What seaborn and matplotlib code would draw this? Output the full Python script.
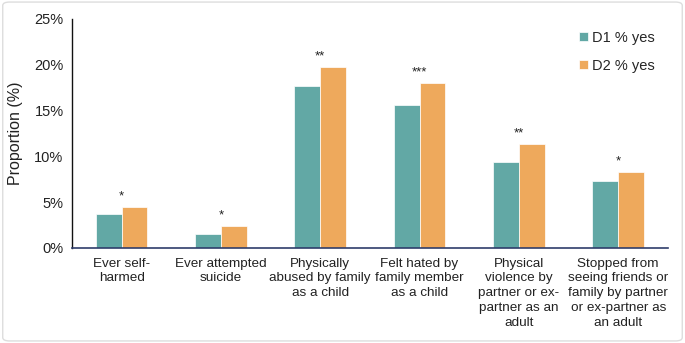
import matplotlib
matplotlib.use("Agg")
import matplotlib.pyplot as plt
import seaborn as sns
import pandas as pd
from matplotlib.patches import FancyBboxPatch
from matplotlib.ticker import PercentFormatter

categories = [
    "Ever self-\nharmed",
    "Ever attempted\nsuicide",
    "Physically\nabused by family\nas a child",
    "Felt hated by\nfamily member\nas a child",
    "Physical\nviolence by\npartner or ex-\npartner as an\nadult",
    "Stopped from\nseeing friends or\nfamily by partner\nor ex-partner as\nan adult",
]
d1_yes = [3.7, 1.5, 17.7, 15.6, 9.4, 7.3]
d2_yes = [4.5, 2.4, 19.7, 18.0, 11.3, 8.3]
significance = ["*", "*", "**", "***", "**", "*"]
series_names = ["D1 % yes", "D2 % yes"]

df = pd.DataFrame({
    "category": categories * 2,
    "value": d1_yes + d2_yes,
    "series": [series_names[0]] * len(categories) + [series_names[1]] * len(categories),
})

sns.set_theme(style="white")
plt.rcParams["font.family"] = ["Liberation Sans", "DejaVu Sans"]

fig = plt.figure(figsize=(6.85, 3.43), dpi=100)
ax = fig.add_axes([0.105, 0.277, 0.870, 0.668])

palette = {"D1 % yes": "#62a8a5", "D2 % yes": "#eea95c"}
sns.barplot(data=df, x="category", y="value", hue="series", palette=palette,
            width=0.52, ax=ax, saturation=1, edgecolor="white", linewidth=0.5)

ax.set_ylim(0, 25)
ax.set_yticks([0, 5, 10, 15, 20, 25])
ax.yaxis.set_major_formatter(PercentFormatter(decimals=0))
ax.set_xlim(-0.5, len(categories) - 0.5)
ax.set_xlabel("")
ax.set_ylabel("Proportion (%)", fontsize=11.5, color="#222222", labelpad=8)
ax.tick_params(axis="y", labelsize=10.5, colors="#222222", length=0, pad=6)
ax.tick_params(axis="x", labelsize=9.7, colors="#222222", length=0, pad=7)
for lbl in ax.get_xticklabels():
    lbl.set_linespacing(1.3)

for s in ["top", "right"]:
    ax.spines[s].set_visible(False)
ax.spines["left"].set_color("#111111")
ax.spines["left"].set_linewidth(1.0)
ax.spines["bottom"].set_color("#2f3d6b")
ax.spines["bottom"].set_linewidth(1.2)

for i, (a, b, sig) in enumerate(zip(d1_yes, d2_yes, significance)):
    ax.text(i, max(a, b) + 0.5, sig, ha="center", va="bottom", fontsize=9.5, color="#222222")

leg = ax.legend(loc="upper right", bbox_to_anchor=(1.0, 1.005), frameon=False,
                fontsize=10.5, handlelength=0.6, handleheight=0.6,
                handletextpad=0.3, labelspacing=0.95)

fig.patches.append(FancyBboxPatch((0.004, 0.006), 0.992, 0.988,
                                  boxstyle="round,pad=0,rounding_size=0.01",
                                  transform=fig.transFigure, fill=False,
                                  edgecolor="#dddddd", linewidth=1.0))

fig.savefig("out.png", dpi=100)
